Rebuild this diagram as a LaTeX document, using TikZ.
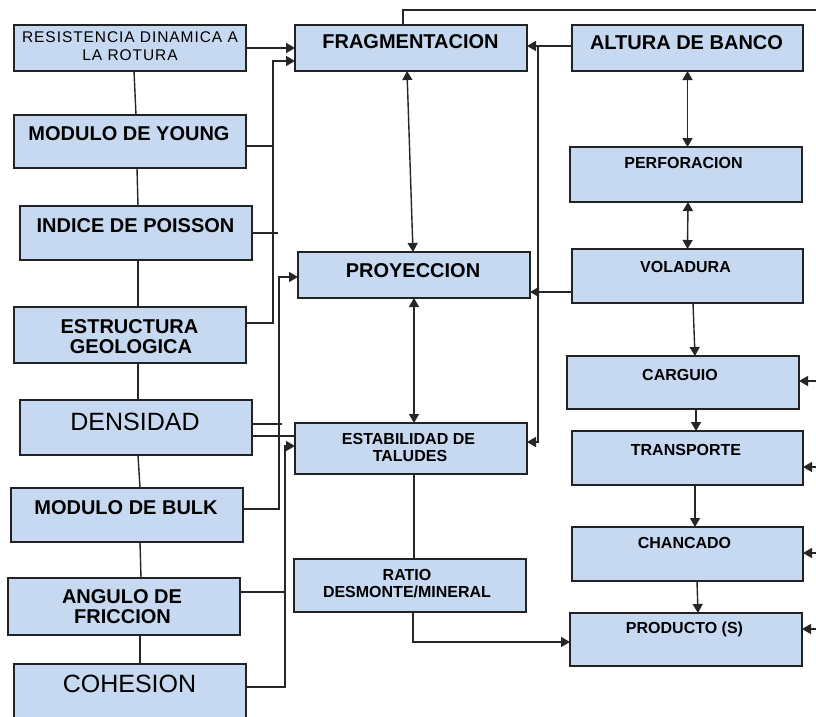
\documentclass[tikz,border=0pt]{standalone}
\usepackage{fontspec}
\setmainfont{Liberation Sans}
\usetikzlibrary{arrows.meta}
\definecolor{boxblue}{HTML}{C6D9F1}
\definecolor{edge}{HTML}{222222}
\tikzset{
  box/.style={draw=edge, line width=1.4pt, fill=boxblue, inner sep=0pt, outer sep=0pt, minimum width=232pt},
  lbl/.style={anchor=base, inner sep=0pt, font=\fontsize{20}{20}\selectfont\bfseries},
  lbls/.style={anchor=base, inner sep=0pt, font=\fontsize{16}{16}\selectfont\bfseries},
  lblr/.style={anchor=base, inner sep=0pt, font=\fontsize{25}{25}\selectfont},
  lblt/.style={anchor=base, inner sep=0pt, font=\fontsize{15.5}{15.5}\selectfont\addfontfeatures{LetterSpace=6}},
  con/.style={line width=1.4pt, draw=black!85},
  arr/.style={con, -{Triangle[length=9pt,width=10pt]}},
  darr/.style={con, {Triangle[length=9pt,width=10pt]}-{Triangle[length=9pt,width=10pt]}},
}
\begin{document}
\begin{tikzpicture}[x=1pt,y=-1pt]
\clip (0,0) rectangle (816,717);
\fill[white] (0,0) rectangle (816,717);
% left column
\node[box, minimum height=46pt] (res) at (130,48) {};
\node[box, minimum height=53pt] (young) at (130,141.5) {};
\node[box, minimum height=54pt] (poisson) at (136,233) {};
\node[box, minimum height=56pt] (estr) at (130,335) {};
\node[box, minimum height=55pt] (dens) at (136,427.5) {};
\node[box, minimum height=54pt] (bulk) at (127,515) {};
\node[box, minimum height=57pt] (ang) at (124,606.5) {};
\node[box, minimum height=66pt] (coh) at (130,697) {};
% middle column
\node[box, minimum height=46pt] (frag) at (411,48) {};
\node[box, minimum height=46pt] (proy) at (414,275) {};
\node[box, minimum height=51pt] (est) at (411,448.5) {};
\node[box, minimum height=53pt] (ratio) at (410,585.5) {};
% right column
\node[box, minimum width=231pt, minimum height=46pt] (alt) at (687.5,48) {};
\node[box, minimum height=55pt] (perf) at (686,174.5) {};
\node[box, minimum width=231pt, minimum height=54pt] (vol) at (687.5,276) {};
\node[box, minimum height=53pt] (carg) at (683,382.5) {};
\node[box, minimum width=231pt, minimum height=54pt] (trans) at (687.5,458) {};
\node[box, minimum width=231pt, minimum height=54pt] (chan) at (687.5,554) {};
\node[box, minimum height=53pt] (prod) at (686,639.5) {};
% labels
\node[lblt] (tres1) at (130,43) {RESISTENCIA DINAMICA A};
\node[lblt] (tres2) at (130,60) {LA ROTURA};
\node[lbl] (tyoung) at (129,140) {MODULO DE YOUNG};
\node[lbl] (tpoisson) at (135.5,232) {INDICE DE POISSON};
\node[lbl] (testr1) at (129.5,333) {ESTRUCTURA};
\node[lbl] (testr2) at (131,353) {GEOLOGICA};
\node[lblr] (tdens) at (135,430) {DENSIDAD};
\node[lbl] (tbulk) at (126,514) {MODULO DE BULK};
\node[lbl] (tang1) at (122,603) {ANGULO DE};
\node[lbl] (tang2) at (122.5,623) {FRICCION};
\node[lblr] (tcoh) at (129.5,692) {COHESION};
\node[lbl] (tfrag) at (410.5,48.5) {FRAGMENTACION};
\node[lbl] (tproy) at (413,277) {PROYECCION};
\node[lbls] (test1) at (408.5,444) {ESTABILIDAD DE};
\node[lbls] (test2) at (410,461) {TALUDES};
\node[lbls] (tratio1) at (407,580) {RATIO};
\node[lbls] (tratio2) at (407,597) {DESMONTE/MINERAL};
\node[lbl] (talt) at (686.5,49) {ALTURA DE BANCO};
\node[lbls] (tperf) at (683.5,168) {PERFORACION};
\node[lbls] (tvol) at (685.5,272) {VOLADURA};
\node[lbls] (tcarg) at (680,380) {CARGUIO};
\node[lbls] (ttrans) at (686,455.5) {TRANSPORTE};
\node[lbls] (tchan) at (684.5,548) {CHANCADO};
\node[lbls] (tprod) at (684.5,633.5) {PRODUCTO (S)};
% junction coordinates
\coordinate (j1) at (273,61);
\coordinate (j2) at (279,277);
\coordinate (j3) at (285,446);
\coordinate (j4) at (538,46);
\coordinate (jt) at (820,10);
\coordinate (rx) at (818,0);
% connectors left
\draw[con] ([xshift=4pt]res.south) -- ([xshift=6pt]young.north);
\draw[con] ([xshift=7pt]young.south) -- ([xshift=2pt]poisson.north);
\draw[con] ([xshift=2pt]poisson.south) -- ([xshift=8pt]estr.north);
\draw[con] ([xshift=8pt]estr.south) -- ([xshift=2pt]dens.north);
\draw[con] ([xshift=2pt]dens.south) -- ([xshift=13pt]bulk.north);
\draw[con] ([xshift=13pt]bulk.south) -- ([xshift=17pt]ang.north);
\draw[con] ([xshift=16pt]ang.south) -- ([xshift=10pt]coh.north);
\draw[arr] (res.east) -- (res.east -| frag.west);
\draw[arr] ([yshift=12pt]estr.east) -| (j1) -- (j1 -| frag.west);
\draw[con] ([yshift=-4.5pt]young.east) -- ([yshift=-4.5pt]young.east -| j1);
\draw[con] (poisson.east) -- ++(26,0) coordinate (pstub);
\draw[arr] ([yshift=6pt]bulk.east) -| (j2) -- (j2 -| proy.west);
\draw[con] ([yshift=3.5pt]dens.east) -- ++(30,0) coordinate (dstub);
\draw[con] ([yshift=-8.5pt]dens.east) -- ([yshift=-8.5pt]dens.east -| est.west);
\draw[arr] ([yshift=10pt]coh.east) -| (j3) -- (j3 -| est.west);
\draw[con] ([yshift=14.5pt]ang.east) -- ([yshift=14.5pt]ang.east -| j3);
% middle
\draw[darr] ([xshift=-4pt]frag.south) -- ([xshift=-1pt]proy.north);
\draw[darr] (proy.south) -- (proy.south |- est.north);
\draw[con] ([xshift=3pt]est.south) -- ([xshift=4pt]ratio.north);
\draw[arr] ([xshift=3pt]ratio.south) |- ([yshift=-2.5pt]prod.west);
\draw[con] ([xshift=-8pt]frag.north) |- (jt);
% right
\draw[arr] ([yshift=2pt]alt.west) -- ([yshift=2pt]alt.west -| frag.east);
\draw[arr] (j4) |- ([yshift=6.5pt]est.east);
\draw[arr] ([yshift=-16pt]vol.west) -- ([yshift=-16pt]vol.west -| proy.east);
\draw[darr] (alt.south) -- (alt.south |- perf.north);
\draw[darr] ([xshift=2pt]perf.south) -- (vol.north);
\draw[arr] ([xshift=5.5pt]vol.south) -- ([xshift=12pt]carg.north);
\draw[arr] ([xshift=13pt]carg.south) -- ([xshift=8.5pt]trans.north);
\draw[arr] ([xshift=7.5pt]trans.south) -- ([xshift=7.5pt]chan.north);
\draw[arr] ([xshift=9.5pt]chan.south) -- ([xshift=12pt]prod.north);
\draw[arr] ([yshift=1.5pt]carg.east -| rx) -- ([yshift=1.5pt]carg.east);
\draw[arr] ([yshift=-9pt]trans.east -| rx) -- ([yshift=-9pt]trans.east);
\draw[arr] ([yshift=1pt]chan.east -| rx) -- ([yshift=1pt]chan.east);
\draw[arr] ([yshift=10.5pt]prod.east -| rx) -- ([yshift=10.5pt]prod.east);
\end{tikzpicture}
\end{document}
